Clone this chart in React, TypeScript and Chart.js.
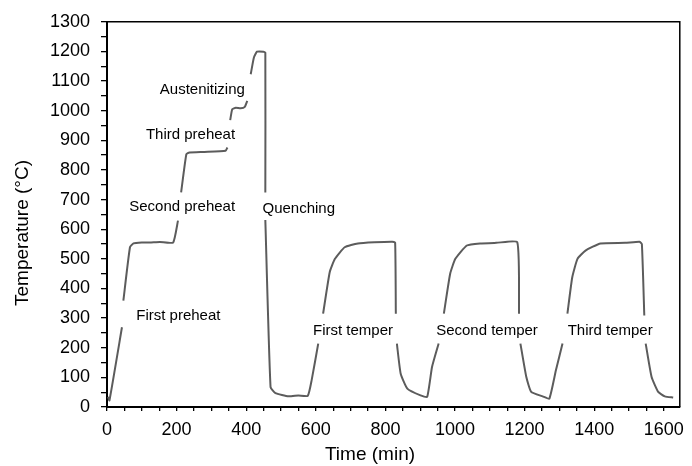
import React, { useEffect, useRef } from 'react';
import { Chart, registerables } from 'chart.js';

Chart.register(...registerables);

// Time (min) of each sampled point; null temperatures break the line where a label sits
const times: number[] = [
  3, 7, 43, 43,
  47, 66, 76, 100, 123, 152, 190, 204, 204,
  213, 228, 237, 280, 341, 346, 346,
  354, 360, 370, 384, 396, 403, 403,
  413, 422, 431, 450, 455, 455, 455,
  455, 470, 484, 522, 550, 577, 588, 607, 607,
  621, 640, 655, 683, 721, 768, 820, 828, 830, 830,
  833, 844, 863, 901, 920, 934, 953, 953,
  968, 986, 1001, 1034, 1072, 1119, 1179, 1184, 1184,
  1188, 1205, 1219, 1252, 1271, 1290, 1309, 1309,
  1323, 1337, 1352, 1375, 1418, 1489, 1530, 1537, 1544, 1544,
  1548, 1565, 1584, 1603, 1627,
];

// Temperature (°C)
const temps: (number | null)[] = [
  34, 22, 269, null,
  359, 539, 552, 555, 555, 557, 555, 629, null,
  724, 853, 859, 861, 865, 876, null,
  968, 1005, 1010, 1008, 1013, 1033, null,
  1123, 1179, 1199, 1199, 1196, 724, null,
  631, 67, 47, 36, 39, 38, 90, 214, null,
  315, 455, 500, 539, 552, 556, 558, 555, 315, null,
  214, 112, 62, 39, 34, 135, 214, null,
  315, 449, 500, 545, 552, 554, 556, 315, null,
  214, 101, 51, 36, 28, 124, 214, null,
  315, 438, 500, 528, 552, 554, 558, 550, 309, null,
  214, 101, 51, 36, 32,
];

const xTickLabels: number[] = [0, 200, 400, 600, 800, 1000, 1200, 1400, 1600];
const yTickLabels: number[] = [0, 100, 200, 300, 400, 500, 600, 700, 800, 900, 1000, 1100, 1200, 1300];

const stageLabels: string[] = [
  'First preheat', 'Second preheat', 'Third preheat', 'Austenitizing',
  'Quenching', 'First temper', 'Second temper', 'Third temper',
];
const stageTimes: number[] = [205, 216, 240, 274, 551, 707, 1092, 1446];
const stageTemps: number[] = [309, 676, 918, 1069, 670, 258, 258, 258];

const xTitle = 'Time (min)';
const yTitle = 'Temperature (°C)';

const FONT = '"Liberation Sans", Arial, Helvetica, sans-serif';

const overlayPlugin = {
  id: 'overlay',
  afterDraw(chart: any) {
    const { ctx, chartArea, scales } = chart;
    const { left, top, right, bottom } = chartArea;
    const xs = scales.x;
    const ys = scales.y;
    ctx.save();
    // frame (top and right edges)
    ctx.strokeStyle = '#000';
    ctx.lineWidth = 1.5;
    ctx.beginPath();
    ctx.moveTo(left, top);
    ctx.lineTo(right, top);
    ctx.lineTo(right, bottom);
    ctx.stroke();

    // stage annotations
    ctx.fillStyle = '#000';
    ctx.font = `15px ${FONT}`;
    ctx.textAlign = 'center';
    ctx.textBaseline = 'middle';
    stageLabels.forEach((s, i) => {
      ctx.fillText(s, xs.getPixelForValue(stageTimes[i]), ys.getPixelForValue(stageTemps[i]));
    });

    // axis titles
    ctx.font = `19px ${FONT}`;
    ctx.fillText(xTitle, 370, 455);
    ctx.translate(23, 233);
    ctx.rotate(-Math.PI / 2);
    ctx.fillText(yTitle, 0, 0);
    ctx.restore();
  },
};

export default function App() {
  const canvasRef = useRef<HTMLCanvasElement | null>(null);

  useEffect(() => {
    if (!canvasRef.current) return;
    const points = times.map((t, i) => ({ x: t, y: temps[i] }));
    const chart = new Chart(canvasRef.current, {
      type: 'line',
      data: {
        datasets: [
          {
            data: points as any,
            borderColor: '#5c5c5c',
            borderWidth: 2,
            pointRadius: 0,
            tension: 0.15,
            spanGaps: false,
            fill: false,
          },
        ],
      },
      options: {
        animation: false,
        responsive: true,
        maintainAspectRatio: false,
        layout: { padding: { top: 21, right: 7, left: 0, bottom: 0 } },
        plugins: {
          legend: { display: false },
          tooltip: { enabled: false },
          title: { display: false },
        },
        scales: {
          x: {
            type: 'linear',
            min: 0,
            max: 1646,
            afterFit: (scale: any) => {
              scale.height = 59;
            },
            ticks: {
              stepSize: 50,
              autoSkip: false,
              includeBounds: false,
              maxRotation: 0,
              padding: 8,
              color: '#000',
              font: { size: 18, family: FONT },
              callback: (v: any) => (xTickLabels.includes(Number(v)) ? String(v) : ''),
            },
            grid: {
              display: true,
              drawOnChartArea: false,
              drawTicks: true,
              tickLength: 4,
              color: '#000',
              lineWidth: 1.3,
            },
            border: { display: true, color: '#000', width: 2 },
          },
          y: {
            type: 'linear',
            min: 0,
            max: 1300,
            afterFit: (scale: any) => {
              scale.width = 107;
            },
            ticks: {
              stepSize: 50,
              autoSkip: false,
              padding: 11,
              color: '#000',
              font: { size: 18, family: FONT },
              callback: (v: any) => (yTickLabels.includes(Number(v)) ? String(v) : ''),
            },
            grid: {
              display: true,
              drawOnChartArea: false,
              drawTicks: true,
              tickLength: 6,
              color: '#000',
              lineWidth: 1.3,
            },
            border: { display: true, color: '#000', width: 2 },
          },
        },
      },
      plugins: [overlayPlugin],
    });
    return () => chart.destroy();
  }, []);

  return (
    <div style={{ position: 'absolute', left: 0, top: 0, width: 692, height: 466, background: '#fff' }}>
      <canvas ref={canvasRef} />
    </div>
  );
}
